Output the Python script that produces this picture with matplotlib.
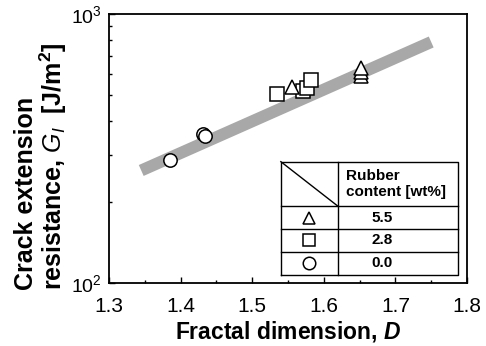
import matplotlib
matplotlib.use("Agg")
import matplotlib.pyplot as plt
from matplotlib.ticker import FixedLocator, NullFormatter

plt.rcParams['font.family'] = ['Liberation Sans', 'DejaVu Sans']
plt.rcParams['mathtext.fontset'] = 'custom'
plt.rcParams['mathtext.rm'] = 'Liberation Sans'
plt.rcParams['mathtext.it'] = 'Liberation Sans:italic'
plt.rcParams['mathtext.bf'] = 'Liberation Sans:bold'
plt.rcParams['mathtext.bfit'] = 'Liberation Sans:bold:italic'

# ---- data ----
circle_D = [1.385, 1.431, 1.434]
circle_G = [287, 357, 352]
square_D = [1.534, 1.571, 1.577, 1.582]
square_G = [504, 517, 529, 568]
triangle_D = [1.555, 1.652, 1.652, 1.652]
triangle_G = [537, 590, 610, 628]
band_D = [1.345, 1.75]
band_G = [262, 787]

x_ticks = [1.3, 1.4, 1.5, 1.6, 1.7, 1.8]
x_tick_labels = ["1.3", "1.4", "1.5", "1.6", "1.7", "1.8"]
x_minor = [1.35, 1.45, 1.55, 1.65, 1.75]
y_ticks = [100, 1000]
y_tick_labels = [r"$10^2$", r"$10^3$"]
y_minor = [200, 300, 400, 500, 600, 700, 800, 900]

legend_labels = ["5.5", "2.8", "0.0"]
legend_markers = ["^", "s", "o"]

fig = plt.figure(figsize=(4.86, 3.46), dpi=100)
ax = fig.add_axes([0.2243, 0.1821, 0.7366, 0.7774])

ax.set_yscale('log')
ax.set_xlim(1.3, 1.8)
ax.set_ylim(100, 1000)

# band
ax.plot(band_D, band_G, color='#a8a8a8', lw=8.6, solid_capstyle='butt', zorder=1)

mk = dict(markerfacecolor='white', markeredgecolor='black', markeredgewidth=1.1,
          linestyle='none', zorder=3)
ax.plot(circle_D, circle_G, marker='o', markersize=9.6, **mk)
for d, g in zip(square_D, square_G):
    ax.plot([d], [g], marker='s', markersize=9.6, **mk)
for d, g in zip(triangle_D, triangle_G):
    ax.plot([d], [g], marker='^', markersize=10.5, **mk)

# ticks
ax.xaxis.set_major_locator(FixedLocator(x_ticks))
ax.set_xticklabels(x_tick_labels)
ax.xaxis.set_minor_locator(FixedLocator(x_minor))
ax.yaxis.set_major_locator(FixedLocator(y_ticks))
ax.set_yticklabels(y_tick_labels)
ax.yaxis.set_minor_locator(FixedLocator(y_minor))
ax.yaxis.set_minor_formatter(NullFormatter())
ax.tick_params(axis='both', which='both', direction='in', top=False, right=False)
ax.tick_params(axis='both', which='major', length=4.5, width=1.0)
ax.tick_params(axis='both', which='minor', length=2.5, width=1.0)
ax.tick_params(axis='x', which='major', labelsize=15, pad=10)
ax.tick_params(axis='y', which='major', labelsize=14, pad=5)
for s in ax.spines.values():
    s.set_linewidth(1.3)

ax.set_xlabel(r"Fractal dimension, $\boldsymbol{D}$", fontsize=16.5, fontweight='bold', labelpad=2)
fig.text(0.086, 1 - 166 / 346, "Crack extension\nresistance, $\\boldsymbol{G_I}$  [J/m$^\\mathbf{2}$]",
         rotation=90, ha='center', va='center', multialignment='left',
         fontsize=18, fontweight='bold', linespacing=1.0)

# legend table
x0, x1, x2 = 0.480, 0.639, 0.976
yt, yh, yr1, yr2, yb = 0.451, 0.286, 0.200, 0.116, 0.030
lk = dict(color='black', lw=1.0, transform=ax.transAxes, clip_on=False, zorder=4)
ax.fill([x0, x2, x2, x0], [yb, yb, yt, yt], color='white', transform=ax.transAxes, zorder=3.5)
ax.plot([x0, x2, x2, x0, x0], [yb, yb, yt, yt, yb], **lk)
ax.plot([x1, x1], [yb, yt], **lk)
for yy in [yh, yr1, yr2]:
    ax.plot([x0, x2], [yy, yy], **lk)
ax.plot([x0, x1], [yt, yh], **lk)
ax.text(0.662, (yt + yh) / 2, "Rubber\ncontent [wt%]", transform=ax.transAxes,
        ha='left', va='center', fontsize=11, fontweight='bold', zorder=5, linespacing=1.2)
rows_y = [(yh + yr1) / 2, (yr1 + yr2) / 2, (yr2 + yb) / 2]
for lab, m, yy in zip(legend_labels, legend_markers, rows_y):
    ax.text(0.763, yy, lab, transform=ax.transAxes, ha='center', va='center',
            fontsize=11, fontweight='bold', zorder=5)
    ax.plot([0.560], [yy], marker=m, markersize=9 if m != 's' else 8.5,
            markerfacecolor='white', markeredgecolor='black', markeredgewidth=1.1,
            transform=ax.transAxes, clip_on=False, zorder=5, linestyle='none')

fig.savefig("out.png", dpi=100)
